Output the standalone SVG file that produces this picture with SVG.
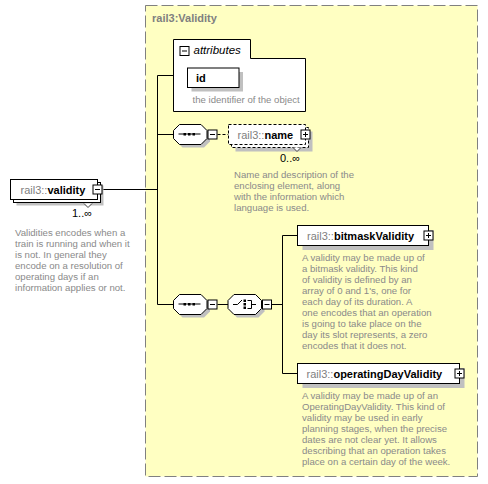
<svg xmlns="http://www.w3.org/2000/svg" width="488" height="484" viewBox="0 0 488 484">
<style>
text{font-family:"Liberation Sans",Arial,sans-serif}
.lbl{font-size:11px}
.pre{fill:#808080}
.nm{font-weight:bold;fill:#000}
.desc{font-size:9.6px;fill:#8a8a8a}
.occ{font-size:11px;fill:#000}
.box{fill:#fff;stroke:#000;stroke-width:1}
.shadow{fill:#c0c0c0}
.ln{stroke:#000;stroke-width:1;fill:none}
.pm{fill:#fff;stroke:#000;stroke-width:1}
</style>
<defs>
<g id="minus"><rect class="pm" x="-4.5" y="-4.5" width="9" height="9"/><path class="ln" d="M-2.5,0H2.5"/></g>
<g id="plus"><rect class="pm" x="-4.5" y="-4.5" width="9" height="9"/><path class="ln" d="M-2.5,0H2.5M0,-2.5V2.5"/></g>
<path id="oct" d="M6,0H27.5L33.5,6V14L27.5,20H6L0,14V6Z"/>
<g id="seqicon"><path class="ln" d="M5,10H27"/><rect x="10" y="9" width="2.5" height="2.5"/><rect x="14.5" y="9" width="2.5" height="2.5"/><rect x="19" y="9" width="2.5" height="2.5"/></g>
</defs>

<g id="container">
<rect x="145.5" y="5.5" width="332" height="471" fill="#ffffc2" stroke="#808080" stroke-dasharray="12,4"/>
<text x="152" y="22" style="font-size:11px;font-weight:bold;fill:#808080">rail3:Validity</text>
</g>

<g id="connectors">
<path class="ln" d="M102.5,189.5H157.5M157.5,75.5V304.5M157.5,75.5H173.5M157.5,134.5H173.5M157.5,304.5H173.5M217.5,304.5H228M272,304.5H282.5M282.5,235.5V373.5M282.5,235.5H297.5M282.5,373.5H297.5"/>
<path class="ln" d="M217.5,134.5H228.5" stroke-dasharray="3,2"/>
</g>

<g id="validity">
<rect class="shadow" x="16.5" y="185.5" width="87" height="20"/>
<rect class="box" x="13.5" y="182.5" width="87" height="20"/>
<rect class="box" x="10.5" y="179.5" width="87" height="20"/>
<polyline points="84,203.5 88,207.5 92,203.5" fill="#fff" stroke="#404040"/>
<text class="lbl" x="20.5" y="193.5"><tspan class="pre">rail3::</tspan><tspan class="nm">validity</tspan></text>
<use href="#minus" x="97.5" y="189.5"/>
<text class="occ" x="72" y="216.5">1..∞</text>
<text class="desc" x="15"><tspan x="15" y="235.5">Validities encodes when a</tspan><tspan x="15" y="246.5">train is running and when it</tspan><tspan x="15" y="257.5">is not. In general they</tspan><tspan x="15" y="268.5">encode on a resolution of</tspan><tspan x="15" y="279.5">operating days if an</tspan><tspan x="15" y="290.5">information applies or not.</tspan></text>
</g>

<g id="attributes">
<path class="box" d="M173.5,39.5H250.5V58.5H305.5V111.5H173.5Z"/>
<use href="#minus" x="184.5" y="51"/>
<text x="193.5" y="53.5" style="font-size:11.5px;font-style:italic">attributes</text>
</g>

<g id="id">
<rect class="shadow" x="191.5" y="72" width="51.5" height="19.5"/>
<rect class="box" x="187.5" y="68" width="51.5" height="19.5"/>
<text class="lbl nm" x="196" y="82">id</text>
<text class="desc" x="192.5" y="102.5">the identifier of the object</text>
</g>

<g id="sequence1">
<use href="#oct" x="176.5" y="127.5" class="shadow"/>
<use href="#oct" x="173.5" y="124.5" fill="#fff" stroke="#000"/>
<use href="#seqicon" x="173.5" y="124"/>
<use href="#minus" x="212.5" y="134.5"/>
</g>

<g id="name">
<rect x="235.5" y="131.5" width="77" height="20" fill="#c0c0c0"/>
<rect x="231.5" y="127.5" width="77" height="20" fill="#fff" stroke="#000" stroke-dasharray="3,2"/>
<rect x="228.5" y="124.5" width="77" height="20" fill="#fff" stroke="#000" stroke-dasharray="3,2"/>
<polyline points="293,147.5 297,151.5 301,147.5" fill="#fff" stroke="#404040"/>
<text class="lbl" x="237.5" y="138.5"><tspan class="pre">rail3::</tspan><tspan class="nm">name</tspan></text>
<use href="#plus" x="305.5" y="134.5"/>
<text class="occ" x="280" y="162">0..∞</text>
<text class="desc"><tspan x="234" y="177.5">Name and description of the</tspan><tspan x="234" y="188.5">enclosing element, along</tspan><tspan x="234" y="199.5">with the information which</tspan><tspan x="234" y="210.5">language is used.</tspan></text>
</g>

<g id="sequence2">
<use href="#oct" x="176.5" y="297.5" class="shadow"/>
<use href="#oct" x="173.5" y="294.5" fill="#fff" stroke="#000"/>
<use href="#seqicon" x="173.5" y="294"/>
<use href="#minus" x="212.5" y="304.5"/>
</g>

<g id="choice">
<use href="#oct" x="231" y="297.5" class="shadow"/>
<use href="#oct" x="228" y="294.5" fill="#fff" stroke="#000"/>
<path class="ln" d="M233,304.5H237.5L242,300"/>
<rect x="243.5" y="299.5" width="2.5" height="2.5"/>
<rect x="243.5" y="303" width="2.5" height="2.5"/>
<rect x="243.5" y="306.5" width="2.5" height="2.5"/>
<path class="ln" d="M247.5,300.5H251.5V308.5H247.5M251.5,304.5H256"/>
<use href="#minus" x="267" y="304.5"/>
</g>

<g id="bitmaskValidity">
<rect class="shadow" x="302.5" y="230" width="131" height="20"/>
<rect class="box" x="297.5" y="225.5" width="131" height="20"/>
<text class="lbl" x="307" y="239.5"><tspan class="pre">rail3::</tspan><tspan class="nm">bitmaskValidity</tspan></text>
<use href="#plus" x="428.5" y="235.5"/>
<text class="desc"><tspan x="302" y="260.5">A validity may be made up of</tspan><tspan x="302" y="271.5">a bitmask validity. This kind</tspan><tspan x="302" y="282.5">of validity is defined by an</tspan><tspan x="302" y="293.5">array of 0 and 1's, one for</tspan><tspan x="302" y="304.5">each day of its duration. A</tspan><tspan x="302" y="315.5">one encodes that an operation</tspan><tspan x="302" y="326.5">is going to take place on the</tspan><tspan x="302" y="337.5">day its slot represents, a zero</tspan><tspan x="302" y="348.5">encodes that it does not.</tspan></text>
</g>

<g id="operatingDayValidity">
<rect class="shadow" x="302.5" y="368" width="162" height="20"/>
<rect class="box" x="297.5" y="363.5" width="162" height="20"/>
<text class="lbl" x="306.5" y="378"><tspan class="pre">rail3::</tspan><tspan class="nm">operatingDayValidity</tspan></text>
<use href="#plus" x="459.5" y="373.5"/>
<text class="desc"><tspan x="302" y="398.5">A validity may be made up of an</tspan><tspan x="302" y="409.5">OperatingDayValidity. This kind of</tspan><tspan x="302" y="420.5">validity may be used in early</tspan><tspan x="302" y="431.5">planning stages, when the precise</tspan><tspan x="302" y="442.5">dates are not clear yet. It allows</tspan><tspan x="302" y="453.5">describing that an operation takes</tspan><tspan x="302" y="464.5">place on a certain day of the week.</tspan></text>
</g>
</svg>
